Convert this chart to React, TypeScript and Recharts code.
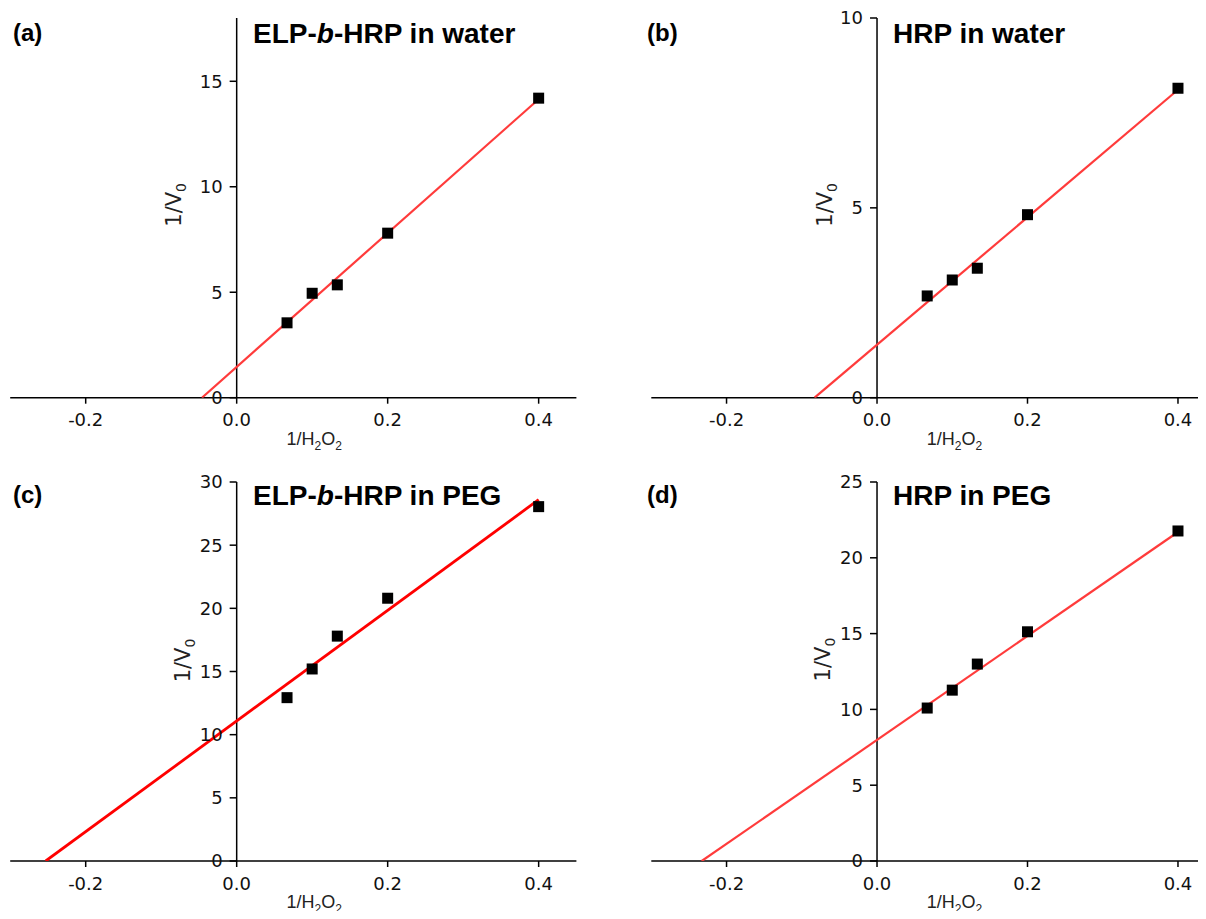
import React from 'react';
import { ScatterChart, Scatter, XAxis, YAxis, ReferenceLine } from 'recharts';

// ---- data ----
const xValues = [0.0667, 0.1, 0.1333, 0.2, 0.4];
const elpWaterY = [3.55, 4.95, 5.35, 7.8, 14.2];
const hrpWaterY = [2.68, 3.1, 3.41, 4.82, 8.15];
const elpPegY = [12.93, 15.2, 17.8, 20.8, 28.05];
const hrpPegY = [10.09, 11.27, 12.99, 15.12, 21.77];

const elpWaterFitX = [-0.046, 0.4];
const elpWaterFitY = [0, 14.15];
const hrpWaterFitX = [-0.083, 0.4];
const hrpWaterFitY = [0, 8.11];
const elpPegFitX = [-0.253, 0.4];
const elpPegFitY = [0, 28.6];
const hrpPegFitX = [-0.233, 0.4];
const hrpPegFitY = [0, 21.7];

const xTicks = [-0.2, 0, 0.2, 0.4];
const xDomain = [-0.3, 0.45];
const elpWaterYTicks = [0, 5, 10, 15];
const hrpWaterYTicks = [0, 5, 10];
const elpPegYTicks = [0, 5, 10, 15, 20, 25, 30];
const hrpPegYTicks = [0, 5, 10, 15, 20, 25];
const yMaxes = [18, 10, 30, 25];

const TICK_FONT = 'DejaVu Sans, Verdana, sans-serif';

const Square = (props: any) => (
  <rect x={props.cx - 5.5} y={props.cy - 5.5} width={11} height={11} fill="#000" />
);

const NoShape = () => <g />;

function XTitle({ viewBox, dx }: any) {
  if (!viewBox) return null;
  const cx = viewBox.x + viewBox.width / 2 + dx;
  const y = viewBox.y + 47;
  return (
    <text x={cx} y={y} textAnchor="middle" fontFamily="Liberation Sans, Arial, sans-serif" fontSize={18} fill="#222">
      1/H<tspan dy={5} fontSize={12}>2</tspan>
      <tspan dy={-5}>O</tspan>
      <tspan dy={5} fontSize={12}>2</tspan>
    </text>
  );
}

function YTitle({ viewBox, off, dy }: any) {
  if (!viewBox) return null;
  const x = viewBox.x - off;
  const y = viewBox.y + viewBox.height / 2 + dy;
  return (
    <text x={x} y={y} transform={`rotate(-90 ${x} ${y})`} textAnchor="middle" fontFamily={TICK_FONT} fontSize={21} fill="#222">
      1/V<tspan dy={5} fontSize={14}>0</tspan>
    </text>
  );
}

function Panel(p: any) {
  const points = p.xs.map((x: number, i: number) => ({ x, y: p.ys[i] }));
  const fit = p.fitX.map((x: number, i: number) => ({ x, y: p.fitY[i] }));
  const tickLen = 0.0093;
  return (
    <div style={{ position: 'absolute', left: p.left, top: p.top }}>
      <ScatterChart width={p.width} height={p.height} margin={p.margin}>
        <XAxis
          type="number"
          dataKey="x"
          domain={xDomain}
          ticks={xTicks}
          allowDataOverflow
          tickFormatter={(v: number) => v.toFixed(1)}
          tickSize={6}
          tickMargin={10}
          height={50}
          axisLine={{ stroke: '#000', strokeWidth: 1.5 }}
          tickLine={{ stroke: '#000', strokeWidth: 1.5 }}
          tick={{ fill: '#111', fontSize: 18, fontFamily: TICK_FONT }}
          label={{ content: (lp: any) => <XTitle viewBox={lp.viewBox} dx={21} /> }}
        />
        <YAxis type="number" dataKey="y" domain={[0, p.yMax]} hide allowDataOverflow />
        <ReferenceLine
          x={0}
          stroke="#000"
          strokeWidth={1.5}
          label={{ content: (lp: any) => <YTitle viewBox={lp.viewBox} off={p.yLabelOff} dy={p.yLabelDy} /> }}
        />
        {p.yTicks.map((t: number) => (
          <ReferenceLine
            key={t}
            segment={[{ x: -tickLen, y: t }, { x: 0, y: t }]}
            stroke="#000"
            strokeWidth={1.5}
            label={{ value: String(t), position: 'left', offset: 7, fill: '#111', fontSize: 18, fontFamily: TICK_FONT }}
          />
        ))}
        <Scatter data={fit} line={{ stroke: p.fitColor, strokeWidth: p.fitWidth }} shape={NoShape} isAnimationActive={false} />
        <Scatter data={points} shape={Square} isAnimationActive={false} />
      </ScatterChart>
    </div>
  );
}

export default function App() {
  const titleFont = 'Liberation Sans, Arial, sans-serif';
  return (
    <div style={{ position: 'relative', width: 1206, height: 919, margin: -8, overflow: 'hidden', background: '#fff' }}>
      <Panel left={0} top={0} width={600} height={460}
        margin={{ top: 18, left: 10.2, right: 23.6, bottom: 12.3 }}
        xs={xValues} ys={elpWaterY} fitX={elpWaterFitX} fitY={elpWaterFitY}
        yTicks={elpWaterYTicks} yMax={yMaxes[0]} fitColor="#ff3b3b" fitWidth={2.2}
        yLabelOff={56} yLabelDy={-3} />
      <Panel left={600} top={0} width={640} height={460}
        margin={{ top: 18, left: 51.3, right: 24.4, bottom: 12.3 }}
        xs={xValues} ys={hrpWaterY} fitX={hrpWaterFitX} fitY={hrpWaterFitY}
        yTicks={hrpWaterYTicks} yMax={yMaxes[1]} fitColor="#ff3b3b" fitWidth={2.2}
        yLabelOff={45} yLabelDy={-3} />
      <Panel left={0} top={460} width={600} height={459}
        margin={{ top: 22, left: 10.2, right: 23.6, bottom: 8 }}
        xs={xValues} ys={elpPegY} fitX={elpPegFitX} fitY={elpPegFitY}
        yTicks={elpPegYTicks} yMax={yMaxes[2]} fitColor="#ff0000" fitWidth={2.8}
        yLabelOff={47} yLabelDy={-11} />
      <Panel left={600} top={460} width={640} height={459}
        margin={{ top: 22, left: 51.3, right: 24.4, bottom: 8 }}
        xs={xValues} ys={hrpPegY} fitX={hrpPegFitX} fitY={hrpPegFitY}
        yTicks={hrpPegYTicks} yMax={yMaxes[3]} fitColor="#ff3b3b" fitWidth={2.2}
        yLabelOff={47} yLabelDy={-12} />
      <svg width={1206} height={919} style={{ position: 'absolute', left: 0, top: 0, pointerEvents: 'none' }}>
        <g fontFamily={titleFont} fontWeight="bold" fill="#000">
          <text x={13} y={41} fontSize={24}>(a)</text>
          <text x={647} y={41} fontSize={24}>(b)</text>
          <text x={13} y={503} fontSize={24}>(c)</text>
          <text x={647} y={503} fontSize={24}>(d)</text>
          <text x={253} y={43} fontSize={28}>ELP-<tspan fontStyle="italic">b</tspan>-HRP in water</text>
          <text x={893} y={43} fontSize={28}>HRP in water</text>
          <text x={253} y={505} fontSize={28}>ELP-<tspan fontStyle="italic">b</tspan>-HRP in PEG</text>
          <text x={893} y={505} fontSize={28}>HRP in PEG</text>
        </g>
      </svg>
    </div>
  );
}
